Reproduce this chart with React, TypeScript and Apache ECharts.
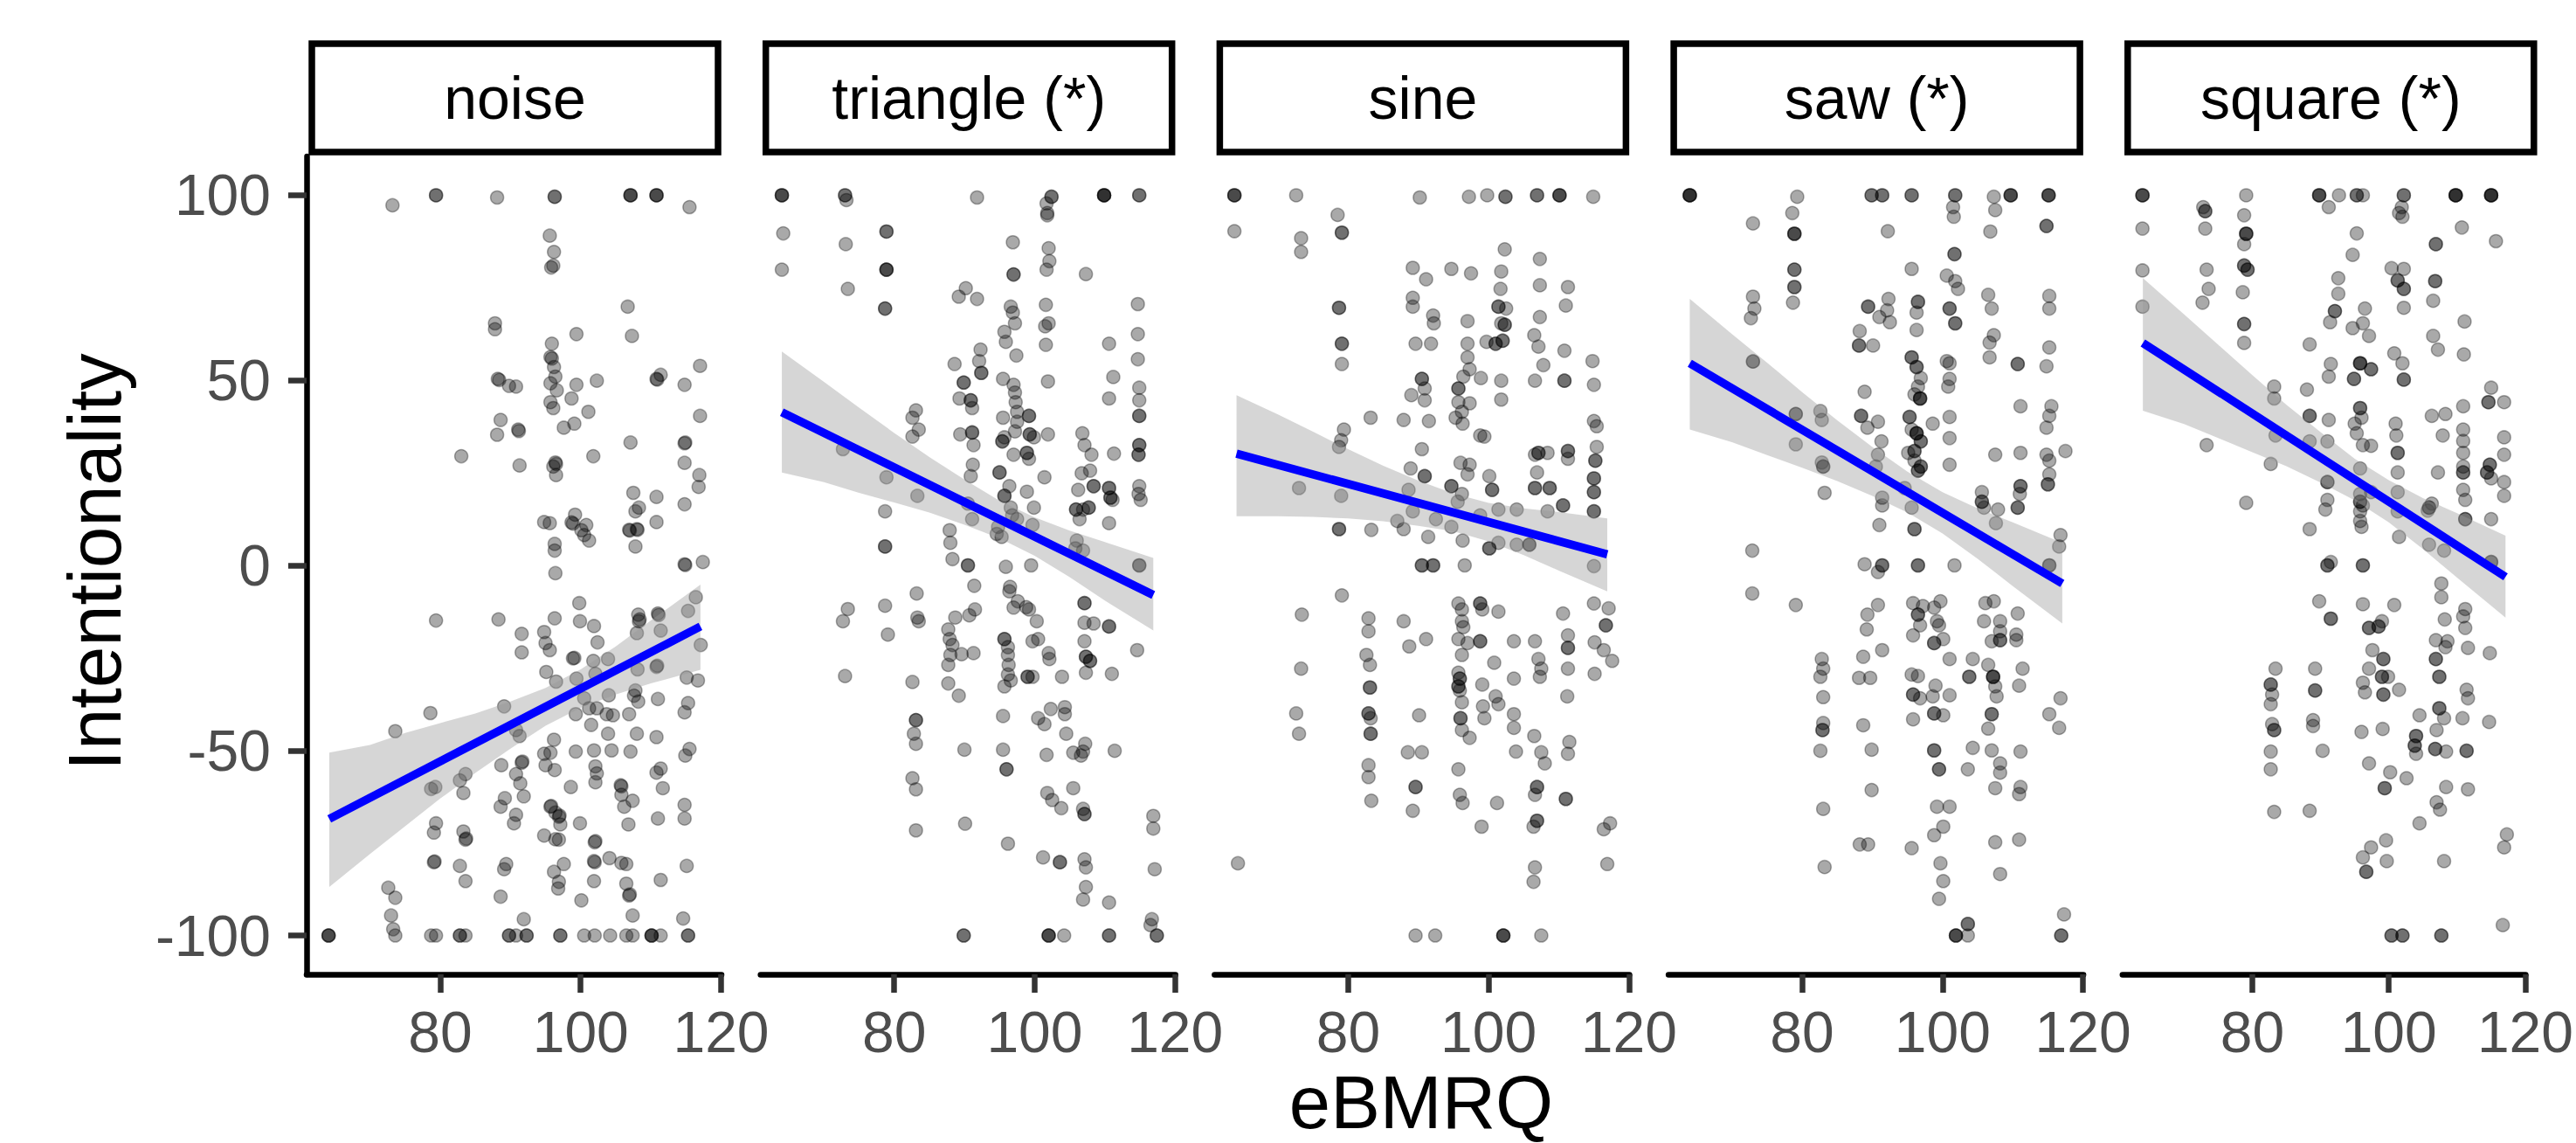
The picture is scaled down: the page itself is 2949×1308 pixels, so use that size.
import React, { useEffect, useRef } from "react";
import * as echarts from "echarts";

const FONT = '"Liberation Sans", Arial, Helvetica, sans-serif';

const panelNames = ["noise", "triangle (*)", "sine", "saw (*)", "square (*)"];
const xTicks = [80, 100, 120];
const yTicks = [-100, -50, 0, 50, 100];

// points: [eBMRQ, Intentionality, count(optional)]
const noisePts = [
  [73.2,97.3],[79.4,100,2],[88.1,99.4],[96.3,99.6,2],[107.1,100,3],[110.8,100,3],[115.5,96.8],
  [95.6,89.1],[96.2,84.7],[96.1,81.0],[95.8,80.5],[106.7,69.9],[87.8,65.4],[87.8,63.8],[99.4,62.5],[107.3,62.0],[95.9,59.9],[95.9,55.9],[95.7,56.3],[96.2,53.6],[96.4,51.0],[117.0,53.9],[88.2,50.4],[88.4,50.1],[89.8,48.5],[90.8,48.3],[95.7,49.2],[96.6,47.3],[99.4,48.8],[102.3,49.9],[110.8,50.4],[110.9,50.2],[111.4,51.5],[114.8,48.8],[98.7,45.1],[95.7,44.1],[96.1,42.5],[101.1,41.5],[117.0,40.4],[88.6,39.3],[97.6,37.2],[99.1,38.3],[88.1,35.3],[91.1,36.7],[91.2,36.3],[107.1,33.2],[114.8,33.0],[114.9,33.2],[83.0,29.5],[101.8,29.5],[91.3,27.0],[96.4,27.8],[96.5,27.4],[96.1,26.7],[96.5,24.4],[114.8,27.7],[116.9,24.4],[116.8,21.2],[107.5,19.6],[110.8,18.5],[108.3,15.6],[107.8,14.6],[114.8,16.5],[99.2,13.7],[94.8,11.7],[95.6,11.4],[98.7,11.6],[98.9,11.3],[100.8,10.9],[110.8,11.7],[100.1,9.5],[106.9,9.6],[107.0,9.4],[108.0,9.8],[108.1,9.6],[100.5,8.2],[101.2,6.7],[96.3,5.8],[96.3,4.0],[107.8,5.1],[114.8,0.3],[114.9,0.1],[117.4,0.9],[96.4,-2.1],[99.8,-10.2],[116.4,-8.6],
  [79.4,-14.9],[88.3,-14.6],[96.3,-14.3],[99.9,-15.1],[101.9,-16.4],[108.2,-13.3],[108.3,-15.1],[108.4,-14.6],[111.0,-13.0],[111.1,-13.4],[115.3,-12.3],[91.6,-18.5],[94.8,-18.0],[95.0,-21.0],[95.6,-22.9],[102.4,-20.8],[108.0,-18.3],[111.4,-17.6],[91.6,-23.5],[98.9,-25.1],[99.1,-25.0],[101.8,-25.8],[103.9,-25.3],[110.8,-27.4],[110.9,-27.1],[117.1,-21.5],[116.7,-31.1],[115.1,-30.3],[108.1,-28.1],[95.1,-28.8],[96.5,-31.4],[99.4,-30.6],[102.1,-29.3],[104.0,-35.1],[107.8,-33.8],[108.2,-36.8],[107.6,-35.2],[111.0,-36.1],[115.3,-37.2],[100.5,-35.9],[89.1,-38.1],[101.2,-38.6],[102.3,-38.6],[99.3,-40.2],[103.7,-40.2],[104.6,-40.5],[106.9,-40.2],[114.8,-39.7],[78.6,-39.9],[101.5,-43.1],[90.8,-44.5],[91.3,-46.1],[103.9,-45.5],[108.0,-45.5],[110.8,-46.4],[73.6,-44.8],[96.2,-47.1],[99.3,-50.3],[101.9,-50.0],[104.4,-50.0],[107.1,-50.3],[115.5,-49.6],[114.9,-51.4],[94.8,-50.9],[95.7,-50.6],[91.6,-53.3],[91.7,-53.0],[88.7,-54.0],[95.0,-54.0],[96.3,-55.3],[102.1,-54.3],[102.3,-56.2],[102.1,-58.6],[111.4,-54.9],[110.8,-56.0],[90.8,-56.4],[83.6,-56.4],[82.8,-58.1],[91.4,-58.9],[79.3,-59.9],[78.7,-60.4],[98.6,-59.9],[105.7,-59.4],[105.8,-59.7],[105.8,-62.0],[111.7,-60.2],[83.3,-61.5],[91.9,-62.4],[89.2,-62.9],[95.7,-65.2],[95.8,-65.0],[88.6,-65.2],[107.4,-63.6],[106.2,-65.2],[114.8,-64.7],[96.9,-67.9],[97.0,-67.6],[96.4,-66.8],[90.8,-67.4],[97.1,-70.0],[99.9,-69.7],[106.8,-70.0],[111.0,-68.4],[114.8,-68.4],[90.5,-69.7],[79.4,-69.7],[79.1,-72.2],[83.3,-71.9],[83.6,-74.1],[83.7,-73.8],[94.8,-73.0],[96.4,-74.0],[96.9,-74.1],[102.0,-74.8],[102.1,-74.5],[104.1,-79.1],[79.1,-80.2],[79.2,-80.0],[82.8,-81.2],[89.4,-80.7],[89.1,-82.1],[97.6,-80.7],[101.9,-79.9],[102.0,-80.2],[105.8,-80.4],[106.5,-80.7],[115.1,-81.2],[96.2,-82.8],[96.9,-85.5],[96.8,-87.3],[83.6,-85.3],[101.9,-85.3],[106.5,-86.0],[106.9,-89.2],[107.0,-88.9],[111.4,-85.0],[72.6,-87.1],[73.6,-89.8],[88.6,-89.5],[100.1,-90.5],[107.4,-94.6],[73.0,-94.6],[91.9,-95.6],[114.6,-95.4],[73.3,-98.3],
  [64.1,-100,3],[73.6,-100],[78.7,-100],[79.4,-100],[82.8,-100,2],[83.6,-100],[89.8,-100,2],[90.8,-100],[92.3,-100,2],[97.1,-100,2],[100.5,-100],[102.0,-100],[104.2,-100],[106.5,-100],[107.4,-100],[110.1,-100,3],[111.4,-100],[115.3,-100,2]
];

const trianglePts = [
  [64.0,100,3],[73.0,100,2],[73.2,98.7],[91.8,99.4],[102.4,99.6,2],[101.7,97.8],[101.8,95.2],[101.8,94.6],[109.9,100,4],[114.9,100,2],
  [64.2,89.7],[73.1,86.8],[78.9,90.2,2],[64.0,79.9],[78.9,79.9,3],[73.4,74.7],[78.7,69.4,2],[96.9,87.3],[102.0,85.7],[102.1,82.2],[101.7,79.9],[97.0,78.6,2],[107.3,78.7],[90.2,74.9],[89.2,72.6],[91.8,72.0],[101.6,70.4],[96.6,69.9],[96.9,68.3],[97.2,65.4],[102.0,65.4],[101.5,64.6],[114.7,70.6],[95.7,63.1],[95.9,60.4],[101.6,59.6],[110.6,59.9],[114.7,62.5],[92.3,58.3],[97.4,56.7],[92.1,55.2],[88.6,54.4],[92.4,52.0,2],[114.7,55.7],[111.2,50.9],[101.9,49.7],[89.9,49.4,2],[95.5,50.4],[97.0,48.8],[114.9,48.0],[97.2,46.7],[110.6,45.1],[114.9,44.6],[89.3,45.1],[90.9,44.6,2],[91.1,42.5],[97.3,44.1],[97.5,41.5],[83.1,41.9],[99.2,40.4,2],[82.6,39.9],[114.9,40.4,2],[95.5,39.9],[97.5,38.8],[83.5,36.7],[82.6,34.8],[89.4,35.4],[91.1,35.9,2],[99.3,35.4,2],[99.9,34.6],[101.9,35.4],[97.2,36.2],[95.4,33.5,2],[95.7,34.6],[91.3,32.5],[106.8,35.7],[107.1,32.5],[108.1,29.9],[111.3,30.2],[114.9,32.5,2],[114.8,29.9,2],[72.7,31.4],[97.0,29.9],[98.9,30.4,2],[99.2,28.8],[91.2,27.2],[95.0,25.1,2],[101.4,23.8],[106.7,24.9],[107.9,25.6],[114.9,21.4],[114.8,19.3],[115.1,17.7],[78.9,23.8],[90.9,24.1],[96.4,21.4],[98.9,19.9],[95.7,18.8,2],[83.3,18.8],[106.2,20.4],[108.4,21.4,2],[110.6,20.9,2],[110.8,18.3,2],[111.1,17.7],[78.7,14.6],[90.5,16.7],[91.1,12.5],[96.6,15.6],[96.8,13.5],[99.9,15.6],[105.9,15.1,2],[106.9,15.1],[107.7,15.6,2],[110.6,11.4],[106.4,12.5],[97.5,12.5],
  [94.8,10.4],[94.6,8.5],[95.3,7.7],[99.7,10.9],[87.9,9.5],[88.0,6.1],[78.7,5.1,2],[88.3,1.7],[90.5,0,2],[95.9,-0.4],[99.5,0],[106.0,6.7],[105.8,4.6],[106.9,4.0],[114.9,0,2],[91.4,-5.5],[96.5,-5.8],[96.4,-7.0],[97.6,-9.7],[98.8,-11.3],[83.2,-7.6],[107.1,-10.2,2],[73.4,-11.8],
  [72.7,-15.1],[78.7,-10.9],[79.1,-18.7],[83.3,-14.1],[83.5,-15.1],[73.0,-29.9],[82.6,-31.5],[83.1,-41.8,2],[82.8,-45.5],[83.1,-48.2],[82.6,-57.5],[83.1,-60.5],[83.1,-71.6],[88.7,-14.1],[90.7,-13.5],[91.5,-11.9],[87.7,-17.3],[87.9,-19.9],[88.3,-21.5],[88.0,-24.2],[87.7,-26.9],[89.6,-24.0],[91.3,-23.7],[87.7,-31.9],[89.2,-35.2],[90.0,-49.8],[90.1,-69.8],[89.9,-100,2],[95.7,-19.9,2],[96.2,-22.1],[96.2,-24.2],[96.3,-26.9],[96.2,-29.5],[96.6,-31.1],[95.7,-32.7],[97.0,-11.4],[99.2,-11.9],[99.0,-30.1,2],[99.7,-30.1],[100.3,-15.1],[99.7,-20.5],[100.5,-19.9],[102.0,-23.7],[102.1,-25.3],[103.9,-30.1],[95.5,-40.7],[95.5,-49.8],[96.0,-55.1,2],[96.2,-75.2],[100.5,-41.3],[101.4,-42.9],[102.3,-38.8],[104.3,-38.3],[104.3,-40.2],[104.5,-45.5],[101.7,-51.2],[105.5,-50.6],[106.9,-50.3],[106.6,-51.4],[107.2,-48.2],[111.4,-50.1],[101.8,-61.5],[102.5,-63.4],[103.8,-65.6],[105.5,-60.2],[106.9,-65.8],[107.1,-67.2,2],[101.2,-78.9],[103.6,-80.2,2],[107.1,-79.4],[107.3,-81.6],[107.3,-86.9],[106.9,-90.3],[110.6,-91.1],[107.1,-15.5],[108.4,-15.7],[110.6,-16.5,2],[107.1,-20.5],[107.3,-24.7,2],[107.9,-25.8,2],[107.3,-29.0],[111.0,-29.3],[114.6,-22.9],[116.9,-67.7],[116.9,-71.1],[117.1,-82.1],[116.7,-95.6],[116.5,-97.2],[117.4,-100,2],[102.0,-100,3],[104.2,-100],[110.6,-100,2]
];

const sinePts = [
  [63.8,100,3],[72.6,100],[90.2,99.4],[97.2,99.6],[99.8,100],[102.4,99.6,2],[106.9,100,2],[110.1,100,3],[114.9,99.6],
  [63.8,90.3],[73.3,88.4],[73.3,84.7],[78.5,94.7],[79.1,89.9,2],[102.3,85.4],[107.3,82.8],[89.2,80.4],[91.1,77.3],[94.7,80.1],[97.5,78.9],[101.8,79.4],[101.7,74.7],[107.3,75.7],[111.3,75.2],[89.2,72.3],[89.2,69.9],[78.7,69.6,2],[101.4,69.9,2],[102.5,69.4],[111.0,70.2],[92.1,67.5],[92.2,65.4],[97.0,66.0],[101.8,65.4],[102.3,65.0,2],[107.3,67.1],[89.6,59.9],[91.8,59.9],[79.1,59.9,2],[79.1,54.4],[97.0,59.9],[99.7,60.4],[101.0,59.9,2],[102.0,60.7,2],[106.5,62.2],[107.1,59.1],[110.8,58.0],[114.8,55.2],[97.0,56.2],[97.3,53.0],[107.8,54.1],[101.8,49.9],[106.6,49.9],[110.8,49.9,2],[115.0,48.8],[90.5,50.4,2],[90.9,47.8],[95.7,47.8,2],[96.4,51.0],[98.9,50.6],[89.0,46.0],[90.9,44.6],[95.7,44.1],[97.3,43.8],[101.8,44.8],[96.2,41.5],[95.3,39.9],[96.3,38.3],[83.2,39.9],[87.9,39.3],[91.5,39.0],[115.0,39.0],[115.4,37.6],[79.4,36.7],[79.0,33.8],[78.7,32.0],[98.8,35.1],[99.4,34.8],[90.5,31.4],[115.4,32.0],[107.1,30.4,2],[108.4,30.4],[111.3,30.9,2],[106.6,29.9],[111.3,28.8],[115.2,28.3,2],[96.0,27.7],[97.3,27.2],[88.9,26.2],[90.9,24.1,2],[97.0,24.6],[100.1,24.1],[106.9,25.1],[115.0,23.5,2],[73.0,20.9],[79.0,18.8],[88.6,20.4],[94.7,21.4,2],[96.2,19.3],[100.5,20.4,2],[106.6,20.9,2],[108.7,20.9,2],[115.0,19.8,2],[95.6,17.2],[98.8,13.5],[101.4,15.1],[104.0,15.1],[108.4,14.6],[110.6,16.2,2],[115.0,14.6,2],[89.2,14.6],[92.5,12.5],[87.0,12.0],[78.7,9.8,2],[83.3,9.6],[87.9,9.8],[91.4,7.7],[94.7,10.4],[96.3,6.7],[100.1,4.6,2],[101.4,6.1],[104.0,5.6],[105.8,5.6,2],[90.5,0,2],[92.1,0,2],[96.6,0],[115.0,-0.2],[79.1,-8.1],
  [73.4,-13.3],[73.3,-27.9],[72.6,-40.0],[73.0,-45.5],[64.3,-80.5],[82.9,-14.3],[82.9,-17.8],[82.6,-24.2],[83.1,-26.9],[83.1,-33.0,2],[82.9,-40.0,2],[83.2,-41.3],[83.2,-45.5,2],[82.9,-54.0],[82.9,-57.2],[83.3,-63.6],[87.9,-15.1],[88.7,-21.9],[91.1,-19.9],[90.1,-40.5],[88.5,-50.5],[90.5,-50.5],[89.6,-59.9,2],[89.2,-66.3],[89.6,-100],[92.4,-100],[95.7,-10.3],[96.2,-11.9],[96.2,-15.1],[96.4,-16.7],[95.7,-19.9],[97.0,-21.0],[96.2,-24.2],[95.7,-29.0],[95.9,-30.6,2],[95.7,-32.7,2],[95.9,-33.8],[96.2,-37.0],[96.0,-41.3,2],[96.2,-44.5],[97.3,-46.6],[95.7,-55.1],[95.9,-62.0],[96.3,-64.2],[98.8,-10.3,2],[99.1,-11.9],[101.4,-12.5],[98.8,-20.5,2],[99.1,-32.2],[99.2,-38.1],[99.4,-41.3],[100.8,-26.3],[101.0,-35.4],[101.4,-37.5],[101.2,-64.2],[99.0,-70.6],[102.1,-100,3],[103.6,-20.5],[103.6,-30.6],[103.6,-40.2],[103.6,-43.9],[103.9,-50.3],[106.6,-20.5],[107.1,-25.3],[107.5,-27.9],[107.3,-30.1],[106.5,-46.1],[107.5,-50.5],[108.0,-53.5],[106.9,-59.9,2],[106.6,-62.0],[106.9,-69.0,2],[106.4,-70.6],[106.6,-81.6],[106.4,-85.5],[107.5,-100],[110.6,-13.0],[111.3,-18.9],[111.3,-22.3,2],[111.3,-27.9],[111.2,-35.4],[111.5,-47.7],[111.3,-50.9],[111.0,-63.1,2],[115.0,-10.3],[117.1,-11.6],[116.7,-16.2,2],[115.1,-20.8],[116.4,-22.9],[117.6,-25.8],[115.1,-29.3],[117.3,-69.7],[116.4,-71.3],[116.9,-80.7]
];

const sawPts = [
  [64.0,100,4],[79.3,99.6],[89.9,100,2],[91.4,100,2],[95.6,100,2],[101.8,100,2],[107.3,99.6],[109.7,100,3],[115.1,100,3],
  [73.0,92.4],[78.6,95.2],[78.9,89.6,3],[101.5,96.8],[101.6,94.2],[107.5,96.0],[92.2,90.3],[106.8,90.2],[114.8,91.7,2],[101.7,84.1,2],[78.9,79.9,2],[78.9,75.2,2],[78.7,71.0],[95.6,80.1],[100.6,78.3],[101.8,76.8],[102.2,74.7],[73.0,72.6],[73.2,69.4],[72.7,66.8],[89.4,69.9,2],[92.3,72.0],[92.1,68.9],[91.0,67.1],[92.5,65.7],[96.5,71.2,2],[96.3,68.3],[101.0,69.4,2],[101.8,65.4,2],[106.5,73.1],[107.0,69.4],[115.2,72.8],[115.2,69.4],[96.3,63.6],[88.2,63.3],[88.1,59.4,2],[90.1,59.4],[107.3,62.2],[106.7,60.2],[106.7,56.2],[115.2,58.9],[114.8,53.8],[110.7,54.4,2],[73.0,55.1,2],[95.6,56.2,2],[96.3,53.6,2],[96.9,50.6],[96.5,48.3],[96.8,45.1,3],[96.0,46.2],[100.6,55.2],[101.0,54.6],[101.0,50.4],[100.8,48.3],[88.9,46.9],[111.1,43.0],[115.5,43.0],[115.2,40.4],[114.8,37.2],[117.5,30.9],[79.1,40.9,2],[82.6,41.7],[82.8,39.3],[88.4,40.4,2],[89.3,37.2],[90.8,38.8],[91.3,33.5],[95.3,40.1,2],[95.6,36.7],[96.3,35.7,3],[96.9,33.5,2],[98.6,38.3],[101.0,40.1],[101.0,34.4],[79.1,32.7],[95.1,30.4],[96.0,30.9,2],[96.0,28.3],[96.9,26.7,2],[96.5,25.6,2],[90.8,29.9],[90.5,26.7],[83.0,26.7,2],[82.8,27.8],[101.0,27.2],[107.5,29.9],[111.1,30.4],[114.8,29.9],[115.2,28.3],[115.0,21.9,2],[115.2,24.6],[111.1,21.4,2],[111.0,19.3],[110.7,15.6,2],[105.6,19.8],[105.6,17.2,2],[105.9,15.6],[107.9,15.1],[107.6,11.4],[83.2,19.6],[91.4,18.3],[91.4,16.2],[94.6,20.9],[95.6,15.6],[96.0,9.8,2],[91.0,10.9],[72.9,4.0],[88.9,0.3],[91.4,0,2],[96.5,0,2],[101.7,0],[90.8,-1.8],[79.1,-10.7],[72.9,-7.6],[90.8,-10.7],[95.8,-10.2],[97.2,-11.0],[99.7,-9.7],[106.1,-10.2],[107.3,-9.7],[115.2,0,2],[116.8,8.2],[116.6,5.1],
  [82.8,-25.3],[83.0,-27.9],[82.6,-30.1],[83.0,-35.6],[83.0,-42.6],[82.9,-44.5,2],[82.6,-50.1],[83.0,-65.8],[83.2,-81.5],[88.7,-24.7],[88.1,-30.4],[89.7,-30.4],[89.2,-17.3],[89.3,-13.3],[91.4,-22.9],[88.7,-43.2],[89.9,-49.8],[89.9,-60.7],[88.2,-75.4],[89.4,-75.4],[96.5,-13.3,2],[96.8,-16.2],[95.8,-18.9],[98.8,-11.4],[99.2,-15.1],[99.5,-16.2],[98.8,-21.0,2],[100.1,-19.9],[95.6,-29.5],[96.5,-29.9],[95.8,-34.9,2],[96.8,-35.9],[98.6,-35.4],[99.0,-32.5],[95.8,-41.6],[98.8,-40.0,2],[100.1,-40.5],[98.8,-50.0,2],[99.5,-55.1,2],[99.2,-65.2],[101.0,-65.2],[100.1,-70.6],[95.6,-76.4],[98.8,-72.9],[99.7,-80.5],[100.1,-85.3],[99.5,-90.1],[103.6,-96.9,2],[101.9,-100,3],[103.6,-100],[101.0,-25.3],[101.0,-35.1],[104.3,-25.3],[103.8,-30.1,2],[104.3,-49.3],[103.6,-55.1],[105.9,-15.1],[108.2,-15.1],[108.2,-17.8],[107.0,-20.5],[108.2,-20.2,2],[110.5,-18.7],[110.7,-13.0],[110.5,-20.2],[106.5,-26.9],[107.2,-30.1,3],[107.5,-32.7],[107.7,-35.4],[107.0,-40.2,2],[106.5,-44.1],[111.4,-27.9],[110.9,-32.5],[107.0,-50.0],[108.2,-53.5],[108.2,-56.0],[111.1,-50.3],[107.5,-60.2],[111.1,-59.9],[110.9,-61.8],[107.5,-74.8],[110.9,-74.1],[108.2,-83.4],[116.8,-35.9],[115.2,-40.2],[116.6,-43.9],[117.3,-94.3],[116.9,-100,2]
];

const squarePts = [
  [63.9,100,3],[79.1,100],[89.8,100,3],[92.7,100],[95.3,100,2],[96.2,100],[102.2,100,2],[109.8,100,4],[115.0,100,4],
  [72.8,96.8],[73.1,95.7,2],[78.8,94.6],[91.2,96.8],[101.9,96.8],[101.5,95.2],[102.0,94.2],[63.9,91.0],[73.1,91.0],[79.1,89.6,3],[78.8,86.8],[78.8,81.0,2],[79.3,79.9,2],[95.3,89.7],[94.7,83.9],[110.7,91.3],[115.7,87.6],[106.9,86.8,2],[106.8,76.8,2],[63.9,79.7],[73.3,79.9],[73.6,74.7],[72.7,71.0],[78.6,73.8],[92.6,77.6],[92.6,73.4],[100.4,80.3],[102.2,80.1],[101.3,77.0,2],[102.2,74.7,2],[102.2,69.6],[106.5,71.5],[63.9,69.9],[78.8,65.2,2],[78.8,60.1],[92.1,68.7,2],[91.4,65.7],[96.5,69.4],[94.7,64.1],[96.2,65.4],[97.1,62.0],[111.1,65.9],[88.4,59.7],[106.5,62.0],[107.2,58.3],[100.8,57.3],[111.0,57.0],[91.5,54.4],[95.8,54.6,3],[97.4,53.0,2],[102.0,54.6],[91.2,51.0],[94.9,50.4,2],[102.2,50.2,2],[88.0,47.5],[83.2,48.3],[115.0,48.0],[114.6,44.1,2],[116.9,44.1],[83.2,45.1],[95.8,42.5,2],[96.0,39.9],[95.0,38.3],[88.4,40.4,2],[91.2,39.3],[106.3,40.4],[108.3,40.9],[110.9,43.0],[110.9,36.7],[110.9,33.6],[116.9,34.6],[101.0,38.3],[101.1,35.1],[95.3,35.7],[96.2,32.5],[97.4,32.3],[91.0,33.5],[83.4,35.1],[88.4,33.5],[107.9,35.1],[73.3,32.5],[110.9,30.4],[101.3,30.4,2],[116.9,29.9],[114.8,27.2,2],[114.4,25.1,2],[115.0,23.5],[110.9,25.1,2],[110.9,26.7],[116.9,22.5],[116.9,18.8],[107.2,25.1],[101.3,25.1],[95.8,26.2],[82.7,27.4],[97.4,19.8],[95.8,19.3],[91.0,22.5,2],[91.0,17.7],[90.7,15.1],[95.8,17.2,2],[95.8,14.6],[96.2,16.2],[101.3,19.8],[101.3,14.6],[105.9,15.6,2],[106.3,16.7],[105.7,14.8],[110.9,20.4],[111.2,17.7],[111.2,12.5,2],[115.0,12.5],[79.1,16.9],[88.4,9.8],[95.8,12.0],[96.0,10.4],[101.5,7.7],[105.9,5.6],[108.1,4.0],[91.0,0,2],[96.2,0,2],[91.5,0.9],[115.0,0.9,2],[89.8,-9.7],[100.8,-10.7],[107.7,-4.9],[107.7,-8.6],[96.2,-10.5],[111.2,-11.8],
  [91.5,-14.4,2],[97.1,-16.9,2],[98.5,-16.5,2],[99.0,-15.1],[108.2,-14.6],[110.9,-13.8],[111.2,-16.9],[111.6,-22.3],[114.8,-23.7],[106.9,-20.2],[108.6,-20.5],[108.3,-22.1],[97.6,-22.9],[83.4,-27.9],[82.7,-32.2,2],[82.9,-34.9],[82.7,-37.5],[82.9,-42.9],[83.2,-44.5,2],[82.7,-50.3],[82.7,-55.1],[83.2,-66.6],[89.2,-27.9],[89.2,-33.8,2],[88.9,-41.8],[88.9,-43.4],[90.3,-50.1],[88.4,-66.3],[97.1,-27.9],[99.2,-25.3,2],[99.0,-30.1,2],[99.9,-30.1],[99.2,-34.9,2],[96.2,-31.7],[96.5,-34.3],[101.5,-33.6],[96.0,-45.0],[99.1,-44.2],[97.1,-53.5],[100.2,-55.9],[102.6,-57.5],[99.4,-60.2,2],[104.5,-40.5],[104.0,-46.1,2],[103.8,-48.7,2],[104.0,-50.9],[107.0,-44.5],[106.9,-25.3,2],[107.4,-30.1,2],[107.4,-38.6,2],[108.1,-41.3],[106.8,-49.6,2],[108.4,-50.3],[111.4,-50.1,2],[110.8,-41.3],[111.4,-33.6],[111.6,-35.9],[114.7,-42.3],[108.4,-59.9],[111.6,-60.5],[107.0,-64.0],[107.5,-66.0],[104.5,-69.7],[96.2,-78.9],[97.4,-76.2],[96.7,-82.8,2],[99.6,-74.3],[99.7,-79.9],[108.1,-79.9],[117.3,-72.7],[116.9,-76.2],[116.7,-97.2],[100.4,-100,2],[102.0,-100,2],[107.7,-100,2]
];

// fitted lines (start, end) and confidence band [x, lower, upper]
const noiseLine = [[64.2,-68.5],[117.06,-16.5]];
const triangleLine = [[64.0,41.4],[116.9,-8.0]];
const sineLine = [[64.1,30.2],[116.9,3.0]];
const sawLine = [[64.0,54.6],[117.05,-4.9]];
const squareLine = [[63.96,60.1],[117.1,-3.1]];

const noiseBand = [[64.2,-86.9,-50.6],[70,-78.0,-48.5],[75,-70.5,-45.3],[80,-63.0,-42.6],[85,-56.1,-40.0],[90,-49.5,-36.8],[95,-43.3,-33.1],[100,-38.5,-28.1],[105,-34.9,-21.9],[110,-31.9,-14.9],[117.06,-28.2,-5.2]];
const triangleBand = [[64.0,25.1,57.8],[70,22.5,49.6],[75,19.6,42.6],[80,17.0,35.8],[85,14.3,29.3],[90,11.0,23.2],[95,7.3,17.5],[100,2.6,13.0],[105,-3.2,9.4],[110,-9.5,6.3],[116.9,-17.6,2.0]];
const sineBand = [[64.1,13.3,46.0],[70,13.3,40.8],[75,13.1,36.1],[80,12.7,31.4],[85,11.9,26.9],[90,10.7,22.9],[95,9.2,19.4],[100,6.5,16.9],[105,2.8,15.4],[110,-1.4,14.4],[116.9,-7.0,12.7]];
const sawBand = [[64.0,36.7,72.0],[70,33.3,62.5],[75,29.8,54.8],[80,26.4,46.8],[85,22.8,39.2],[90,18.8,32.0],[95,14.3,25.3],[100,8.6,19.8],[105,1.8,15.4],[110,-5.6,11.6],[117.05,-15.7,6.1]];
const squareBand = [[63.96,41.8,77.6],[70,38.2,67.8],[75,34.4,59.6],[80,30.6,51.4],[85,26.8,43.4],[90,22.4,36.0],[95,17.6,28.8],[100,11.6,23.0],[105,4.4,18.2],[110,-3.3,14.1],[117.1,-14.1,8.0]];

const panelPts = [noisePts, trianglePts, sinePts, sawPts, squarePts];
const panelLines = [noiseLine, triangleLine, sineLine, sawLine, squareLine];
const panelBands = [noiseBand, triangleBand, sineBand, sawBand, squareBand];

function expand(list: number[][]) {
  const out: number[][] = [];
  for (const p of list) {
    const n = p[2] || 1;
    for (let k = 0; k < n; k++) out.push([p[0], p[1]]);
  }
  return out;
}

const PANEL_LEFT = 351;
const PANEL_PITCH = 519.7;
const PANEL_W = 475;
const PANEL_TOP = 179;
const PANEL_H = 936;
const X_MIN = 60.97;
const X_MAX = 120.06;
const Y_MIN = -110.5;
const Y_MAX = 110.5;

function buildOption() {
  const grid: any[] = [];
  const xAxis: any[] = [];
  const yAxis: any[] = [];
  const series: any[] = [];
  const graphic: any[] = [];

  for (let i = 0; i < 5; i++) {
    const left = PANEL_LEFT + PANEL_PITCH * i;
    grid.push({ left, top: PANEL_TOP, width: PANEL_W, height: PANEL_H, containLabel: false });
    xAxis.push({
      gridIndex: i,
      type: "value",
      min: X_MIN,
      max: X_MAX,
      splitLine: { show: false },
      axisLine: { show: true, onZero: false, lineStyle: { color: "#000", width: 6.5 } },
      axisTick: { show: true, customValues: xTicks, length: 21, lineStyle: { color: "#333333", width: 6.5 } },
      axisLabel: { show: true, customValues: xTicks, fontSize: 66, color: "#4D4D4D", fontFamily: FONT, margin: 33, showMinLabel: true, showMaxLabel: true },
    });
    yAxis.push({
      gridIndex: i,
      type: "value",
      min: Y_MIN,
      max: Y_MAX,
      show: i === 0,
      splitLine: { show: false },
      axisLine: { show: i === 0, onZero: false, lineStyle: { color: "#000", width: 6.5 } },
      axisTick: { show: i === 0, customValues: yTicks, length: 21, lineStyle: { color: "#333333", width: 6.5 } },
      axisLabel: { show: i === 0, customValues: yTicks, fontSize: 66, color: "#4D4D4D", fontFamily: FONT, margin: 41 },
    });

    series.push({
      type: "scatter",
      xAxisIndex: i,
      yAxisIndex: i,
      data: expand(panelPts[i]),
      symbol: "circle",
      symbolSize: 15,
      itemStyle: { color: "rgba(0,0,0,0.42)", borderColor: "rgba(0,0,0,0.42)", borderWidth: 1.5 },
      z: 2,
      silent: true,
    });

    const band = panelBands[i];
    series.push({
      type: "custom",
      xAxisIndex: i,
      yAxisIndex: i,
      data: band,
      encode: { x: 0, y: [1, 2] },
      z: 3,
      silent: true,
      renderItem: (params: any, api: any) => {
        if (params.dataIndex !== 0) return null;
        const pts: number[][] = [];
        for (let k = 0; k < band.length; k++) pts.push(api.coord([band[k][0], band[k][2]]));
        for (let k = band.length - 1; k >= 0; k--) pts.push(api.coord([band[k][0], band[k][1]]));
        return { type: "polygon", shape: { points: pts }, style: { fill: "rgba(153,153,153,0.4)" } };
      },
    });

    series.push({
      type: "line",
      xAxisIndex: i,
      yAxisIndex: i,
      data: panelLines[i],
      symbol: "none",
      lineStyle: { color: "#0000FF", width: 9.5 },
      z: 4,
      silent: true,
    });

    const sx = 357 + PANEL_PITCH * i;
    graphic.push({
      type: "rect",
      shape: { x: sx, y: 50, width: 465, height: 124 },
      style: { fill: "#fff", stroke: "#000", lineWidth: 7.5 },
      z: 10,
    });
    graphic.push({
      type: "text",
      x: sx + 232.5,
      y: 112,
      style: { text: panelNames[i], fontSize: 68, fontFamily: FONT, fill: "#000", align: "center", verticalAlign: "middle" },
      z: 11,
    });
  }

  graphic.push({
    type: "text",
    x: 108,
    y: 643,
    rotation: Math.PI / 2,
    style: { text: "Intentionality", fontSize: 85, fontFamily: FONT, fill: "#000", align: "center", verticalAlign: "middle" },
  });
  graphic.push({
    type: "text",
    x: 1627,
    y: 1261,
    style: { text: "eBMRQ", fontSize: 85, fontFamily: FONT, fill: "#000", align: "center", verticalAlign: "middle" },
  });

  return {
    animation: false,
    backgroundColor: "#fff",
    grid,
    xAxis,
    yAxis,
    series,
    graphic,
  };
}

export default function App() {
  const ref = useRef<HTMLDivElement>(null);
  useEffect(() => {
    if (!ref.current) return;
    const chart = echarts.init(ref.current, null, { renderer: "svg" });
    chart.setOption(buildOption() as any);
    return () => chart.dispose();
  }, []);
  return (
    <div
      ref={ref}
      style={{ position: "absolute", left: 0, top: 0, width: 2949, height: 1308, background: "#fff" }}
    />
  );
}
